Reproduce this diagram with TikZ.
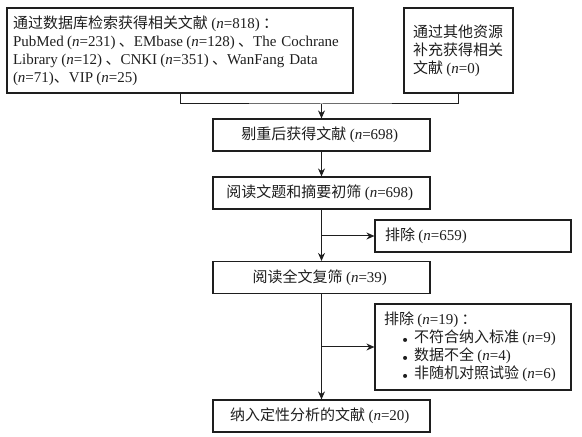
\documentclass[tikz,border=0pt]{standalone}
\usepackage{fontspec}
\setmainfont{Liberation Serif}
\newfontfamily\zhfont{Noto Sans CJK SC}
\usetikzlibrary{arrows.meta}
\definecolor{cink}{HTML}{1E1E1E}
\tikzset{
  >={Stealth[length=4.8pt,width=4.2pt]},
  box/.style={draw=cink,line width=0.7pt,inner sep=0pt,text=cink,minimum height=19.2pt},
  mainbox/.style={box,minimum width=130.2pt},
  sidebox/.style={box,minimum width=117.6pt,align=left},
  link/.style={draw=cink,line width=0.6pt},
}
\newcommand{\zh}[1]{{\zhfont #1}}
\newcommand{\nval}[1]{\kern0.22em(\textit{n}=#1)\kern0.22em}
\newcommand{\itembul}{\hspace*{10.8pt}\makebox[7.2pt][l]{\tiny$\bullet$}}

\begin{document}
\begin{tikzpicture}[x=0.6pt,y=-0.6pt,font=\fontsize{9}{10.8}\selectfont]
\useasboundingbox (0,0) rectangle (582,437);

% ================= sources =================
\node[box,minimum width=207.6pt,minimum height=51pt,text width=200.4pt,align=left] (db) at (180,50.5)
  {\zh{通过数据库检索获得相关文献}\nval{818}\zh{：}\\
   \makebox[\linewidth][s]{PubMed\nval{231}\zh{、}EMbase\nval{128}\zh{、}The Cochrane}\\
   \makebox[\linewidth][s]{Library\nval{12}\zh{、}CNKI\nval{351}\zh{、}WanFang Data}\\
   (\textit{n}=71)\zh{、}VIP\nval{25}};
\node[box,minimum width=65.4pt,minimum height=51pt,text width=54.6pt,align=left] (other) at (458.5,50.5)
  {\zh{通过其他资源}\\ \zh{补充获得相关}\\ \zh{文献}\nval{0}};
\coordinate (join) at (321.5,104);
\draw[link] (db.south) |- (join) -| (other.south);

% ================= screening column =================
\node[mainbox] (dedup) at (321.5,135) {\zh{剔重后获得文献}\nval{698}};
\node[mainbox] (screen) at (321.5,193) {\zh{阅读文题和摘要初筛}\nval{698}};
\node[mainbox] (full) at (321.5,277.5) {\zh{阅读全文复筛}\nval{39}};
\node[mainbox] (incl) at (321.5,416) {\zh{纳入定性分析的文献}\nval{20}};
\draw[link,->] (join) -- (dedup);
\draw[link,->] (dedup) -- (screen);
\draw[link,->] (screen) -- (full);
\draw[link,->] (full) -- (incl);

% ================= exclusions =================
\node[sidebox,text width=105.6pt] (excl1) at (473,236) {\zh{排除}\nval{659}};
\node[sidebox,minimum height=51.6pt,text width=106.8pt] (excl2) at (473,347)
  {\zh{排除}\nval{19}\zh{：}\\
   \itembul\zh{不符合纳入标准}\nval{9}\\
   \itembul\zh{数据不全}\nval{4}\\
   \itembul\zh{非随机对照试验}\nval{6}};
\draw[link,->] (screen.south |- excl1.west) -- (excl1.west);
\draw[link,->] (full.south |- excl2.west) -- (excl2.west);

\end{tikzpicture}
\end{document}
